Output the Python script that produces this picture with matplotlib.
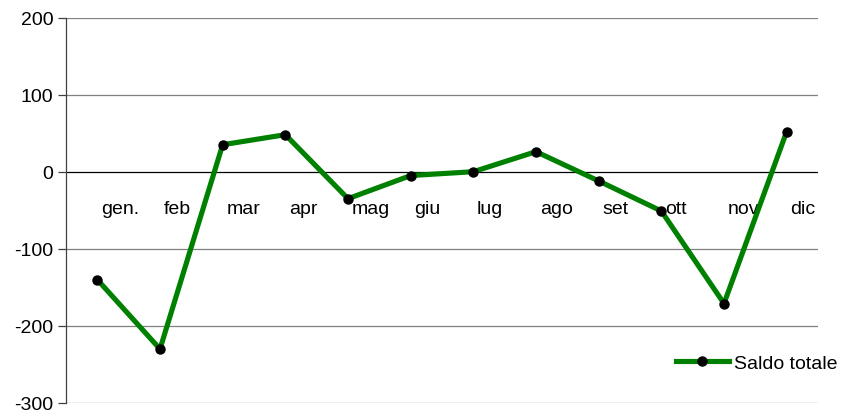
import matplotlib.pyplot as plt
import numpy as np

plt.rcParams['font.family'] = ['Liberation Sans', 'DejaVu Sans']
plt.rcParams['axes.unicode_minus'] = False

mesi = ['gen.', 'feb', 'mar', 'apr', 'mag', 'giu', 'lug', 'ago', 'set', 'ott', 'nov', 'dic']
saldo = [-140, -230, 35, 48, -35, -5, 0, 26, -12, -51, -171, 52]
y_ticks = [-300, -200, -100, 0, 100, 200]

fs = 14

fig = plt.figure(figsize=(8.46, 4.14), dpi=100)
ax = fig.add_axes([66 / 846, 10 / 414, 752 / 846, 385.5 / 414])

x = np.arange(len(mesi))

# gridlines (gray) and the zero axis (black)
for t in y_ticks:
    if t == 0:
        continue
    ax.axhline(t, color='#808080', lw=0.9, zorder=1)
ax.axhline(0, color='black', lw=0.9, zorder=1)

ax.plot(x, saldo, color='#008000', lw=3.7, marker='o', markersize=6.5,
        markerfacecolor='black', markeredgecolor='black', label='Saldo totale', zorder=3)

# category labels sit just under the zero line
for i, m in enumerate(mesi):
    ax.text(i + 0.06, -48, m, ha='left', va='center', fontsize=fs, zorder=2)

ax.set_xlim(-0.5, len(mesi) - 0.5)
ax.set_ylim(-300, 200)
ax.set_yticks(y_ticks)
ax.set_xticks([])
ax.tick_params(axis='y', direction='out', length=6, width=0.9, labelsize=fs, pad=3, color='#404040')

for s in ['top', 'right', 'bottom']:
    ax.spines[s].set_visible(False)
ax.spines['left'].set_color('#404040')
ax.spines['left'].set_linewidth(0.9)

ax.legend(loc='center left', bbox_to_anchor=(676 / 846, 50 / 414), bbox_transform=fig.transFigure,
          frameon=False, fontsize=fs, handlelength=2.7, handletextpad=0.26,
          borderpad=0, borderaxespad=0)

fig.savefig('out.png', dpi=100)
